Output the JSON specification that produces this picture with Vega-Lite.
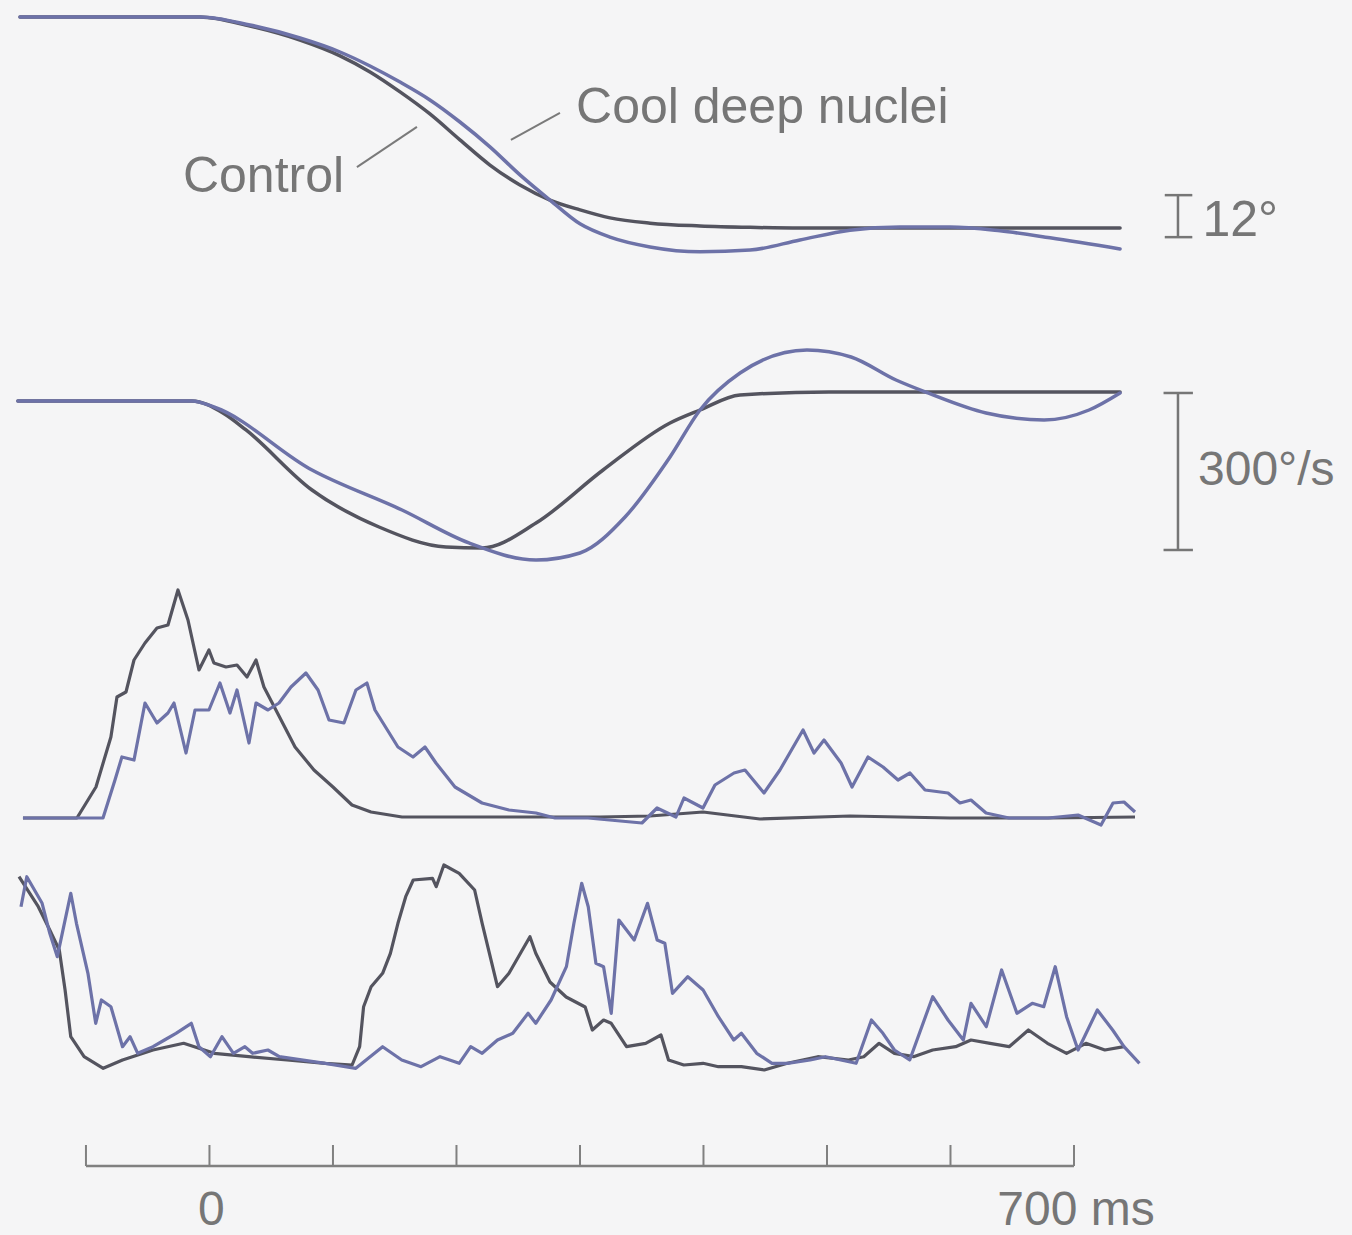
{
  "$schema": "https://vega.github.io/schema/vega-lite/v6.json",
  "background": "#f5f5f6",
  "padding": 0,
  "spacing": 0,
  "config": {"view": {"stroke": null}, "text": {"font": "Liberation Sans", "color": "#767676"}},
  "datasets": {
    "position": [
      {"c":"Control","t":-153.4,"v":0},{"c":"Control","t":-7.7,"v":0},{"c":"Control","t":32.8,"v":-2.6},{"c":"Control","t":73.3,"v":-6.6},{"c":"Control","t":105.7,"v":-11.1},{"c":"Control","t":130.0,"v":-15.7},{"c":"Control","t":154.3,"v":-21.4},{"c":"Control","t":178.5,"v":-27.7},{"c":"Control","t":202.8,"v":-35.1},{"c":"Control","t":227.1,"v":-42.3},{"c":"Control","t":251.4,"v":-48.0},{"c":"Control","t":275.7,"v":-52.3},{"c":"Control","t":300.0,"v":-55.1},{"c":"Control","t":324.3,"v":-57.4},{"c":"Control","t":356.7,"v":-58.9},{"c":"Control","t":397.2,"v":-59.7},{"c":"Control","t":437.7,"v":-60.1},{"c":"Control","t":478.1,"v":-60.3},{"c":"Control","t":737.3,"v":-60.3},
      {"c":"Cool","t":-153.4,"v":0},{"c":"Cool","t":-7.7,"v":0},{"c":"Cool","t":32.8,"v":-2.3},{"c":"Cool","t":73.3,"v":-6.0},{"c":"Cool","t":105.7,"v":-10.0},{"c":"Cool","t":130.0,"v":-14.0},{"c":"Cool","t":154.3,"v":-18.6},{"c":"Cool","t":178.5,"v":-23.7},{"c":"Cool","t":202.8,"v":-30.0},{"c":"Cool","t":227.1,"v":-37.1},{"c":"Cool","t":251.4,"v":-45.1},{"c":"Cool","t":275.7,"v":-52.3},{"c":"Cool","t":300.0,"v":-59.1},{"c":"Cool","t":324.3,"v":-62.9},{"c":"Cool","t":356.7,"v":-65.7},{"c":"Cool","t":397.2,"v":-67.1},{"c":"Cool","t":437.7,"v":-66.6},{"c":"Cool","t":478.1,"v":-63.7},{"c":"Cool","t":518.6,"v":-60.9},{"c":"Cool","t":559.1,"v":-60.0},{"c":"Cool","t":599.6,"v":-60.0},{"c":"Cool","t":640.1,"v":-61.1},{"c":"Cool","t":680.6,"v":-63.1},{"c":"Cool","t":737.3,"v":-66.3}
    ],
    "velocity": [
      {"c":"Control","t":-155.1,"v":0},{"c":"Control","t":-14.2,"v":0},{"c":"Control","t":10.9,"v":-22.9},{"c":"Control","t":29.6,"v":-55.4},{"c":"Control","t":83.0,"v":-170.1},{"c":"Control","t":137.3,"v":-240.8},{"c":"Control","t":191.5,"v":-279.0},{"c":"Control","t":220.7,"v":-281.0},{"c":"Control","t":264.4,"v":-233.2},{"c":"Control","t":318.7,"v":-131.9},{"c":"Control","t":372.9,"v":-42.0},{"c":"Control","t":397.2,"v":-17.2},{"c":"Control","t":429.6,"v":11.5},{"c":"Control","t":501.6,"v":17.2},{"c":"Control","t":737.3,"v":17.2},
      {"c":"Cool","t":-155.1,"v":0},{"c":"Cool","t":-14.2,"v":0},{"c":"Cool","t":3.6,"v":-11.5},{"c":"Cool","t":83.0,"v":-131.9},{"c":"Cool","t":155.9,"v":-208.3},{"c":"Cool","t":210.1,"v":-271.3},{"c":"Cool","t":264.4,"v":-303.8},{"c":"Cool","t":300.0,"v":-290.4},{"c":"Cool","t":336.5,"v":-221.6},{"c":"Cool","t":372.9,"v":-107.0},{"c":"Cool","t":397.2,"v":-17.2},{"c":"Cool","t":429.6,"v":53.5},{"c":"Cool","t":483.8,"v":97.5},{"c":"Cool","t":519.5,"v":84.1},{"c":"Cool","t":555.9,"v":40.1},{"c":"Cool","t":581.8,"v":15.3},{"c":"Cool","t":628.8,"v":-22.9},{"c":"Cool","t":675.8,"v":-36.3},{"c":"Cool","t":712.2,"v":-17.2},{"c":"Cool","t":737.3,"v":15.3}
    ],
    "emg1": [
      {"c":"Control","t":-151.0,"v":0},{"c":"Control","t":-107.3,"v":0},{"c":"Control","t":-91.9,"v":31},{"c":"Control","t":-79.8,"v":81},{"c":"Control","t":-74.9,"v":121},{"c":"Control","t":-67.6,"v":126},{"c":"Control","t":-61.1,"v":158},{"c":"Control","t":-52.2,"v":175},{"c":"Control","t":-42.5,"v":190},{"c":"Control","t":-33.6,"v":193},{"c":"Control","t":-25.5,"v":228},{"c":"Control","t":-17.4,"v":198},{"c":"Control","t":-8.5,"v":148},{"c":"Control","t":-0.4,"v":168},{"c":"Control","t":3.6,"v":155},{"c":"Control","t":13.4,"v":151},{"c":"Control","t":22.3,"v":153},{"c":"Control","t":30.4,"v":141},{"c":"Control","t":37.7,"v":158},{"c":"Control","t":44.1,"v":131},{"c":"Control","t":53.8,"v":108},{"c":"Control","t":69.3,"v":71},{"c":"Control","t":84.6,"v":48},{"c":"Control","t":100.0,"v":31},{"c":"Control","t":115.4,"v":13},{"c":"Control","t":130.8,"v":6},{"c":"Control","t":155.9,"v":1},{"c":"Control","t":202.0,"v":1},{"c":"Control","t":316.2,"v":1},{"c":"Control","t":356.7,"v":2},{"c":"Control","t":399.6,"v":6},{"c":"Control","t":445.7,"v":-1},{"c":"Control","t":518.6,"v":2},{"c":"Control","t":599.6,"v":0},{"c":"Control","t":680.6,"v":0},{"c":"Control","t":749.4,"v":1},
      {"c":"Cool","t":-151.0,"v":0},{"c":"Cool","t":-86.2,"v":0},{"c":"Cool","t":-76.5,"v":38},{"c":"Cool","t":-70.9,"v":61},{"c":"Cool","t":-61.1,"v":58},{"c":"Cool","t":-52.2,"v":115},{"c":"Cool","t":-42.5,"v":95},{"c":"Cool","t":-33.6,"v":105},{"c":"Cool","t":-28.7,"v":115},{"c":"Cool","t":-19.0,"v":65},{"c":"Cool","t":-11.7,"v":108},{"c":"Cool","t":-0.4,"v":108},{"c":"Cool","t":8.5,"v":135},{"c":"Cool","t":16.6,"v":105},{"c":"Cool","t":22.3,"v":128},{"c":"Cool","t":32.0,"v":75},{"c":"Cool","t":37.7,"v":115},{"c":"Cool","t":47.4,"v":108},{"c":"Cool","t":56.3,"v":115},{"c":"Cool","t":66.0,"v":131},{"c":"Cool","t":78.1,"v":145},{"c":"Cool","t":87.9,"v":128},{"c":"Cool","t":96.8,"v":98},{"c":"Cool","t":108.9,"v":95},{"c":"Cool","t":118.6,"v":128},{"c":"Cool","t":127.5,"v":135},{"c":"Cool","t":134.0,"v":108},{"c":"Cool","t":152.6,"v":71},{"c":"Cool","t":164.8,"v":61},{"c":"Cool","t":174.5,"v":71},{"c":"Cool","t":183.4,"v":55},{"c":"Cool","t":198.8,"v":31},{"c":"Cool","t":220.7,"v":15},{"c":"Cool","t":242.5,"v":8},{"c":"Cool","t":264.4,"v":5},{"c":"Cool","t":279.8,"v":0},{"c":"Cool","t":306.5,"v":0},{"c":"Cool","t":350.2,"v":-5},{"c":"Cool","t":362.4,"v":10},{"c":"Cool","t":377.7,"v":1},{"c":"Cool","t":384.2,"v":20},{"c":"Cool","t":399.6,"v":10},{"c":"Cool","t":409.3,"v":33},{"c":"Cool","t":424.7,"v":45},{"c":"Cool","t":433.6,"v":48},{"c":"Cool","t":449.0,"v":25},{"c":"Cool","t":461.9,"v":48},{"c":"Cool","t":480.6,"v":88},{"c":"Cool","t":489.5,"v":65},{"c":"Cool","t":497.6,"v":78},{"c":"Cool","t":511.4,"v":55},{"c":"Cool","t":520.3,"v":31},{"c":"Cool","t":533.2,"v":61},{"c":"Cool","t":545.4,"v":51},{"c":"Cool","t":557.5,"v":38},{"c":"Cool","t":567.2,"v":45},{"c":"Cool","t":579.4,"v":28},{"c":"Cool","t":598.0,"v":25},{"c":"Cool","t":607.7,"v":15},{"c":"Cool","t":616.6,"v":18},{"c":"Cool","t":628.8,"v":5},{"c":"Cool","t":647.4,"v":0},{"c":"Cool","t":679.0,"v":0},{"c":"Cool","t":703.3,"v":3},{"c":"Cool","t":721.9,"v":-7},{"c":"Cool","t":731.6,"v":15},{"c":"Cool","t":740.5,"v":16},{"c":"Cool","t":749.4,"v":6}
    ],
    "emg2": [
      {"c":"Control","t":-154.2,"v":193.3},{"c":"Control","t":-138.6,"v":163.3},{"c":"Control","t":-129.3,"v":140},{"c":"Control","t":-121.6,"v":120},{"c":"Control","t":-116.9,"v":80},{"c":"Control","t":-112.3,"v":33.3},{"c":"Control","t":-101.5,"v":13.3},{"c":"Control","t":-86.0,"v":1.7},{"c":"Control","t":-70.4,"v":10},{"c":"Control","t":-45.7,"v":20},{"c":"Control","t":-20.9,"v":26.7},{"c":"Control","t":3.9,"v":16.7},{"c":"Control","t":31.8,"v":13.3},{"c":"Control","t":62.8,"v":10},{"c":"Control","t":93.8,"v":6.7},{"c":"Control","t":115.5,"v":5},{"c":"Control","t":121.6,"v":23.3},{"c":"Control","t":124.8,"v":63.3},{"c":"Control","t":130.9,"v":83.3},{"c":"Control","t":140.2,"v":96.7},{"c":"Control","t":146.5,"v":116.7},{"c":"Control","t":152.6,"v":146.7},{"c":"Control","t":158.9,"v":173.3},{"c":"Control","t":165.0,"v":190},{"c":"Control","t":180.6,"v":191.7},{"c":"Control","t":183.6,"v":183.3},{"c":"Control","t":189.8,"v":205},{"c":"Control","t":202.2,"v":196.7},{"c":"Control","t":214.7,"v":180},{"c":"Control","t":220.8,"v":146.7},{"c":"Control","t":233.2,"v":83.3},{"c":"Control","t":242.5,"v":96.7},{"c":"Control","t":251.8,"v":116.7},{"c":"Control","t":259.5,"v":133.3},{"c":"Control","t":264.2,"v":116.7},{"c":"Control","t":275.7,"v":88},{"c":"Control","t":288.8,"v":73},{"c":"Control","t":304.2,"v":63},{"c":"Control","t":310.0,"v":40},{"c":"Control","t":319.1,"v":50},{"c":"Control","t":325.3,"v":46.7},{"c":"Control","t":337.7,"v":23.3},{"c":"Control","t":353.2,"v":26.7},{"c":"Control","t":365.6,"v":35},{"c":"Control","t":371.7,"v":10},{"c":"Control","t":384.1,"v":5},{"c":"Control","t":399.7,"v":6.7},{"c":"Control","t":412.1,"v":3.3},{"c":"Control","t":430.7,"v":3.3},{"c":"Control","t":449.2,"v":0},{"c":"Control","t":467.9,"v":6.7},{"c":"Control","t":492.6,"v":13.3},{"c":"Control","t":517.4,"v":10},{"c":"Control","t":529.8,"v":13.3},{"c":"Control","t":542.2,"v":26.7},{"c":"Control","t":554.6,"v":16.7},{"c":"Control","t":570.1,"v":13.3},{"c":"Control","t":585.6,"v":20},{"c":"Control","t":604.2,"v":23.3},{"c":"Control","t":616.6,"v":30},{"c":"Control","t":632.1,"v":26.7},{"c":"Control","t":647.5,"v":23.3},{"c":"Control","t":663.1,"v":40},{"c":"Control","t":678.5,"v":26.7},{"c":"Control","t":694.0,"v":16.7},{"c":"Control","t":709.6,"v":26.7},{"c":"Control","t":725.0,"v":20},{"c":"Control","t":740.5,"v":23.3},
      {"c":"Cool","t":-152.6,"v":163.3},{"c":"Cool","t":-147.9,"v":193.3},{"c":"Cool","t":-135.5,"v":166.7},{"c":"Cool","t":-129.3,"v":136.7},{"c":"Cool","t":-123.2,"v":113.3},{"c":"Cool","t":-112.3,"v":176.7},{"c":"Cool","t":-107.7,"v":146.7},{"c":"Cool","t":-98.4,"v":96.7},{"c":"Cool","t":-92.1,"v":46.7},{"c":"Cool","t":-87.5,"v":70},{"c":"Cool","t":-79.8,"v":63.3},{"c":"Cool","t":-70.4,"v":23.3},{"c":"Cool","t":-64.3,"v":33.3},{"c":"Cool","t":-58.1,"v":16.7},{"c":"Cool","t":-45.7,"v":23.3},{"c":"Cool","t":-36.4,"v":30},{"c":"Cool","t":-27.1,"v":36.7},{"c":"Cool","t":-14.7,"v":46.7},{"c":"Cool","t":-8.5,"v":23.3},{"c":"Cool","t":0.8,"v":13.3},{"c":"Cool","t":10.1,"v":33.3},{"c":"Cool","t":19.4,"v":16.7},{"c":"Cool","t":28.7,"v":23.3},{"c":"Cool","t":34.9,"v":16.7},{"c":"Cool","t":47.3,"v":20},{"c":"Cool","t":56.6,"v":13.3},{"c":"Cool","t":93.8,"v":6.7},{"c":"Cool","t":118.5,"v":1.7},{"c":"Cool","t":140.2,"v":23.3},{"c":"Cool","t":155.7,"v":10},{"c":"Cool","t":171.3,"v":3.3},{"c":"Cool","t":186.7,"v":13.3},{"c":"Cool","t":202.2,"v":6.7},{"c":"Cool","t":211.5,"v":23.3},{"c":"Cool","t":220.8,"v":16.7},{"c":"Cool","t":233.2,"v":30},{"c":"Cool","t":245.6,"v":36.7},{"c":"Cool","t":258.0,"v":56.7},{"c":"Cool","t":264.2,"v":46.7},{"c":"Cool","t":276.6,"v":70},{"c":"Cool","t":289.0,"v":103.3},{"c":"Cool","t":295.1,"v":146.7},{"c":"Cool","t":301.4,"v":186.7},{"c":"Cool","t":306.7,"v":163.3},{"c":"Cool","t":312.9,"v":106.7},{"c":"Cool","t":319.1,"v":103.3},{"c":"Cool","t":325.3,"v":56.7},{"c":"Cool","t":331.5,"v":150},{"c":"Cool","t":343.9,"v":130},{"c":"Cool","t":354.7,"v":166.7},{"c":"Cool","t":362.5,"v":130},{"c":"Cool","t":368.7,"v":126.7},{"c":"Cool","t":374.9,"v":76.7},{"c":"Cool","t":387.3,"v":93.3},{"c":"Cool","t":399.7,"v":80},{"c":"Cool","t":412.1,"v":53.3},{"c":"Cool","t":424.5,"v":30},{"c":"Cool","t":430.7,"v":36.7},{"c":"Cool","t":443.1,"v":16.7},{"c":"Cool","t":455.5,"v":6.7},{"c":"Cool","t":467.9,"v":6.7},{"c":"Cool","t":486.4,"v":10},{"c":"Cool","t":498.8,"v":13.3},{"c":"Cool","t":523.6,"v":6.7},{"c":"Cool","t":536.0,"v":50},{"c":"Cool","t":545.3,"v":36.7},{"c":"Cool","t":554.6,"v":20},{"c":"Cool","t":567.0,"v":10},{"c":"Cool","t":585.6,"v":73.3},{"c":"Cool","t":598.0,"v":50},{"c":"Cool","t":610.4,"v":30},{"c":"Cool","t":616.6,"v":66.7},{"c":"Cool","t":629.0,"v":43.3},{"c":"Cool","t":641.4,"v":100},{"c":"Cool","t":653.8,"v":56.7},{"c":"Cool","t":666.2,"v":66.7},{"c":"Cool","t":675.5,"v":63.3},{"c":"Cool","t":684.8,"v":103.3},{"c":"Cool","t":694.0,"v":53.3},{"c":"Cool","t":703.3,"v":20},{"c":"Cool","t":718.9,"v":60},{"c":"Cool","t":731.3,"v":40},{"c":"Cool","t":740.5,"v":23.3},{"c":"Cool","t":753.0,"v":6.7}
    ]
  },
  "vconcat": [
    {
      "width": 1352, "height": 290,
      "layer": [
        {
          "data": {"name": "position"},
          "mark": {"type": "line", "interpolate": "monotone", "strokeWidth": 3.5, "strokeCap": "round"},
          "encoding": {
            "x": {"field": "t", "type": "quantitative", "scale": {"domain": [-169.6, 925.1], "nice": false, "zero": false}, "axis": null},
            "y": {"field": "v", "type": "quantitative", "scale": {"domain": [-78, 4.857], "nice": false, "zero": false}, "axis": null},
            "color": {"field": "c", "type": "nominal", "scale": {"domain": ["Control", "Cool"], "range": ["#54545f", "#6d72a8"]}, "legend": null}
          }
        },
        {
          "data": {"values": [{"t": 784.2, "lo": -62.9, "hi": -50.9}]},
          "mark": {"type": "rule", "color": "#767676", "strokeWidth": 2.5},
          "encoding": {
            "x": {"field": "t", "type": "quantitative", "scale": {"domain": [-169.6, 925.1], "nice": false, "zero": false}, "axis": null},
            "y": {"field": "lo", "type": "quantitative", "scale": {"domain": [-78, 4.857], "nice": false, "zero": false}, "axis": null},
            "y2": {"field": "hi"}
          }
        },
        {
          "data": {"values": [{"a": 773.5, "b": 795.8, "v": -50.9}, {"a": 773.5, "b": 795.8, "v": -62.9}]},
          "mark": {"type": "rule", "color": "#767676", "strokeWidth": 2.5},
          "encoding": {
            "x": {"field": "a", "type": "quantitative", "scale": {"domain": [-169.6, 925.1], "nice": false, "zero": false}, "axis": null},
            "x2": {"field": "b"},
            "y": {"field": "v", "type": "quantitative", "scale": {"domain": [-78, 4.857], "nice": false, "zero": false}, "axis": null}
          }
        },
        {
          "data": {"values": [{"t1": 119.4, "t2": 168.0, "v1": -42.9, "v2": -31.4}, {"t1": 244.1, "t2": 283.8, "v1": -35.1, "v2": -27.4}]},
          "mark": {"type": "rule", "color": "#7a7a7a", "strokeWidth": 2},
          "encoding": {
            "x": {"field": "t1", "type": "quantitative", "scale": {"domain": [-169.6, 925.1], "nice": false, "zero": false}, "axis": null},
            "x2": {"field": "t2"},
            "y": {"field": "v1", "type": "quantitative", "scale": {"domain": [-78, 4.857], "nice": false, "zero": false}, "axis": null},
            "y2": {"field": "v2"}
          }
        },
        {
          "data": {"values": [{"t": -21.5, "v": -50.0, "label": "Control"}, {"t": 296.8, "v": -30.3, "label": "Cool deep nuclei"}, {"t": 804.0, "v": -62.6, "label": "12°"}]},
          "mark": {"type": "text", "align": "left", "baseline": "alphabetic", "fontSize": 50},
          "encoding": {
            "x": {"field": "t", "type": "quantitative", "scale": {"domain": [-169.6, 925.1], "nice": false, "zero": false}, "axis": null},
            "y": {"field": "v", "type": "quantitative", "scale": {"domain": [-78, 4.857], "nice": false, "zero": false}, "axis": null},
            "text": {"field": "label"}
          }
        }
      ]
    },
    {
      "width": 1352, "height": 285,
      "layer": [
        {
          "data": {"name": "velocity"},
          "mark": {"type": "line", "interpolate": "monotone", "strokeWidth": 3.5, "strokeCap": "round"},
          "encoding": {
            "x": {"field": "t", "type": "quantitative", "scale": {"domain": [-169.6, 925.1], "nice": false, "zero": false}, "axis": null},
            "y": {"field": "v", "type": "quantitative", "scale": {"domain": [-332.5, 212.1], "nice": false, "zero": false}, "axis": null},
            "color": {"field": "c", "type": "nominal", "scale": {"domain": ["Control", "Cool"], "range": ["#54545f", "#6d72a8"]}, "legend": null}
          }
        },
        {
          "data": {"values": [{"t": 784.2, "lo": -284.7, "hi": 15.3}]},
          "mark": {"type": "rule", "color": "#767676", "strokeWidth": 2.5},
          "encoding": {
            "x": {"field": "t", "type": "quantitative", "scale": {"domain": [-169.6, 925.1], "nice": false, "zero": false}, "axis": null},
            "y": {"field": "lo", "type": "quantitative", "scale": {"domain": [-332.5, 212.1], "nice": false, "zero": false}, "axis": null},
            "y2": {"field": "hi"}
          }
        },
        {
          "data": {"values": [{"a": 772.5, "b": 796.3, "v": 15.3}, {"a": 772.5, "b": 796.3, "v": -284.7}]},
          "mark": {"type": "rule", "color": "#767676", "strokeWidth": 2.5},
          "encoding": {
            "x": {"field": "a", "type": "quantitative", "scale": {"domain": [-169.6, 925.1], "nice": false, "zero": false}, "axis": null},
            "x2": {"field": "b"},
            "y": {"field": "v", "type": "quantitative", "scale": {"domain": [-332.5, 212.1], "nice": false, "zero": false}, "axis": null}
          }
        },
        {
          "data": {"values": [{"t": 800.4, "v": -160.5, "label": "300°/s"}]},
          "mark": {"type": "text", "align": "left", "baseline": "alphabetic", "fontSize": 48},
          "encoding": {
            "x": {"field": "t", "type": "quantitative", "scale": {"domain": [-169.6, 925.1], "nice": false, "zero": false}, "axis": null},
            "y": {"field": "v", "type": "quantitative", "scale": {"domain": [-332.5, 212.1], "nice": false, "zero": false}, "axis": null},
            "text": {"field": "label"}
          }
        }
      ]
    },
    {
      "width": 1352, "height": 275,
      "data": {"name": "emg1"},
      "mark": {"type": "line", "strokeWidth": 3.2, "strokeJoin": "round"},
      "encoding": {
        "x": {"field": "t", "type": "quantitative", "scale": {"domain": [-169.6, 925.1], "nice": false, "zero": false}, "axis": null},
        "y": {"field": "v", "type": "quantitative", "scale": {"domain": [-32, 243], "nice": false, "zero": false}, "axis": null},
        "color": {"field": "c", "type": "nominal", "scale": {"domain": ["Control", "Cool"], "range": ["#54545f", "#6d72a8"]}, "legend": null}
      }
    },
    {
      "width": 1352, "height": 250,
      "data": {"name": "emg2"},
      "mark": {"type": "line", "strokeWidth": 3.2, "strokeJoin": "round"},
      "encoding": {
        "x": {"field": "t", "type": "quantitative", "scale": {"domain": [-169.6, 925.1], "nice": false, "zero": false}, "axis": null},
        "y": {"field": "v", "type": "quantitative", "scale": {"domain": [-30, 220], "nice": false, "zero": false}, "axis": null},
        "color": {"field": "c", "type": "nominal", "scale": {"domain": ["Control", "Cool"], "range": ["#54545f", "#6d72a8"]}, "legend": null}
      }
    },
    {
      "width": 1352, "height": 135,
      "data": {"values": [{"t": -100, "label": ""}, {"t": 0, "label": "0"}, {"t": 100, "label": ""}, {"t": 200, "label": ""}, {"t": 300, "label": ""}, {"t": 400, "label": ""}, {"t": 500, "label": ""}, {"t": 600, "label": ""}, {"t": 700, "label": "700 ms"}]},
      "layer": [
        {
          "transform": [{"aggregate": [{"op": "min", "field": "t", "as": "lo"}, {"op": "max", "field": "t", "as": "hi"}]}],
          "mark": {"type": "rule", "color": "#808080", "strokeWidth": 2.5},
          "encoding": {
            "x": {"field": "lo", "type": "quantitative", "scale": {"domain": [-169.6, 925.1], "nice": false, "zero": false}, "axis": null},
            "x2": {"field": "hi"},
            "y": {"datum": 69, "type": "quantitative", "scale": {"domain": [0, 135], "nice": false, "zero": false}, "axis": null}
          }
        },
        {
          "mark": {"type": "rule", "color": "#808080", "strokeWidth": 2},
          "encoding": {
            "x": {"field": "t", "type": "quantitative", "scale": {"domain": [-169.6, 925.1], "nice": false, "zero": false}, "axis": null},
            "y": {"datum": 69, "type": "quantitative", "scale": {"domain": [0, 135], "nice": false, "zero": false}, "axis": null},
            "y2": {"datum": 90}
          }
        },
        {
          "mark": {"type": "text", "align": "center", "baseline": "alphabetic", "fontSize": 48, "dx": 2},
          "encoding": {
            "x": {"field": "t", "type": "quantitative", "scale": {"domain": [-169.6, 925.1], "nice": false, "zero": false}, "axis": null},
            "y": {"datum": 10, "type": "quantitative", "scale": {"domain": [0, 135], "nice": false, "zero": false}, "axis": null},
            "text": {"field": "label"}
          }
        }
      ]
    }
  ]
}
